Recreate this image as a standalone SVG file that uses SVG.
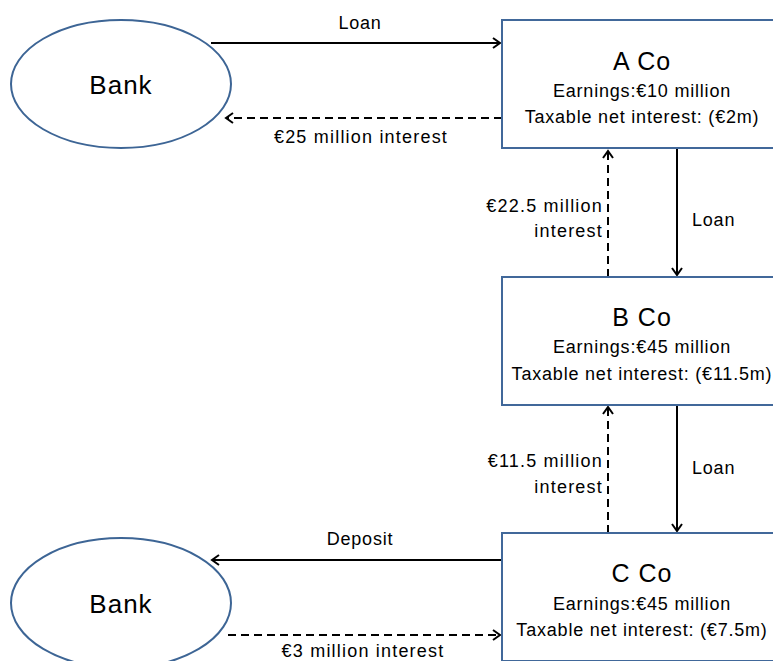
<svg xmlns="http://www.w3.org/2000/svg" width="773" height="661" viewBox="0 0 773 661">
<style>
  .bank { fill: #ffffff; stroke: #3d6595; stroke-width: 2; }
  .box { fill: #ffffff; stroke: #41689a; stroke-width: 2; }
  text { font-family: "Liberation Sans", Arial, sans-serif; fill: #000000; }
  .big { font-size: 25px; letter-spacing: 1px; text-anchor: middle; }
  .small { font-size: 18px; letter-spacing: 0.8px; }
  .lbl { letter-spacing: 1.2px; }
  .mid { text-anchor: middle; }
  .end { text-anchor: end; }
  .line { fill: none; stroke: #000000; stroke-width: 2; }
  .dash { stroke-dasharray: 8 5; }
</style>
<defs>
  <marker id="arr" markerWidth="14" markerHeight="14" refX="10" refY="6" orient="auto" markerUnits="userSpaceOnUse">
    <path d="M3,1 L10,6 L3,11" fill="none" stroke="#000000" stroke-width="2"/>
  </marker>
</defs>
<rect width="773" height="661" fill="#ffffff"/>
<g id="connectors">
  <line class="line" x1="211" y1="43" x2="500" y2="43" marker-end="url(#arr)"/>
  <text class="small mid" x="360" y="29">Loan</text>
  <line class="line dash" x1="502" y1="118" x2="226" y2="118" marker-end="url(#arr)"/>
  <text class="small lbl mid" x="361" y="143">€25 million interest</text>

  <line class="line dash" x1="608" y1="277" x2="608" y2="151" marker-end="url(#arr)"/>
  <line class="line" x1="677" y1="148" x2="677" y2="275" marker-end="url(#arr)"/>
  <text class="small lbl end" x="603" y="212">€22.5 million</text>
  <text class="small lbl end" x="603" y="237">interest</text>
  <text class="small" x="692" y="226">Loan</text>

  <line class="line dash" x1="608" y1="533" x2="608" y2="407" marker-end="url(#arr)"/>
  <line class="line" x1="677" y1="405" x2="677" y2="531" marker-end="url(#arr)"/>
  <text class="small lbl end" x="603" y="467">€11.5 million</text>
  <text class="small lbl end" x="603" y="493">interest</text>
  <text class="small" x="692" y="474">Loan</text>

  <line class="line" x1="502" y1="560" x2="212" y2="560" marker-end="url(#arr)"/>
  <text class="small mid" x="360" y="545">Deposit</text>
  <line class="line dash" x1="228" y1="635" x2="500" y2="635" marker-end="url(#arr)"/>
  <text class="small lbl mid" x="363" y="657">€3 million interest</text>
</g>
<g id="bank-top">
  <ellipse class="bank" cx="121" cy="84" rx="110" ry="64"/>
  <text x="121" y="94" font-size="26" letter-spacing="1" text-anchor="middle">Bank</text>
</g>
<g id="bank-bottom">
  <ellipse class="bank" cx="121" cy="603" rx="110" ry="65"/>
  <text x="121" y="613" font-size="26" letter-spacing="1" text-anchor="middle">Bank</text>
</g>
<g id="a-co">
  <rect class="box" x="502" y="20" width="290" height="128"/>
  <text class="big" x="642" y="70">A Co</text>
  <text class="small mid" x="642" y="97">Earnings:€10 million</text>
  <text class="small mid" x="642" y="123">Taxable net interest: (€2m)</text>
</g>
<g id="b-co">
  <rect class="box" x="502" y="277" width="290" height="128"/>
  <text class="big" x="642" y="326">B Co</text>
  <text class="small mid" x="642" y="353">Earnings:€45 million</text>
  <text class="small mid" x="642" y="380">Taxable net interest: (€11.5m)</text>
</g>
<g id="c-co">
  <rect class="box" x="502" y="533" width="290" height="128"/>
  <text class="big" x="642" y="582">C Co</text>
  <text class="small mid" x="642" y="610">Earnings:€45 million</text>
  <text class="small mid" x="642" y="636">Taxable net interest: (€7.5m)</text>
</g>
</svg>
